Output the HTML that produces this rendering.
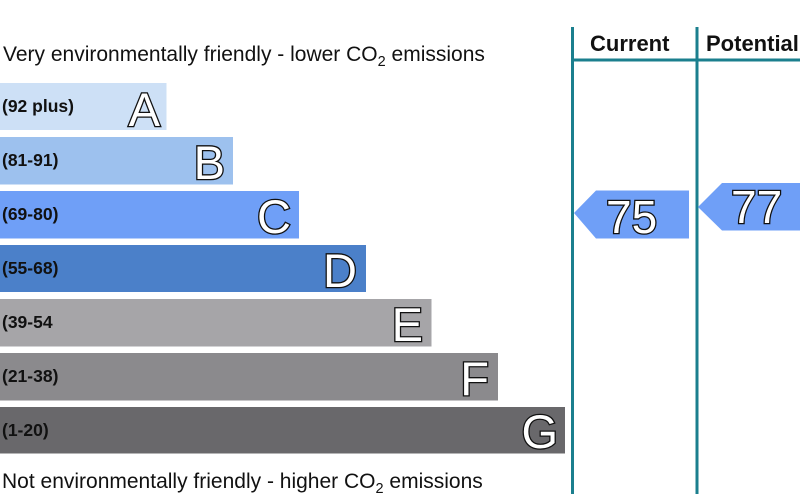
<!DOCTYPE html>
<html><head><meta charset="utf-8"><style>
html,body{margin:0;padding:0;background:#fff;}
svg{display:block;}
.lab{font-family:"Liberation Sans",Arial,sans-serif;font-weight:bold;font-size:17.5px;fill:#111;}
.big{font-family:"Liberation Sans",Arial,sans-serif;font-size:47px;fill:#fff;stroke:#111;stroke-width:2.6px;paint-order:stroke;text-anchor:end;}
.num{font-family:"Liberation Sans",Arial,sans-serif;font-size:46px;fill:#fff;stroke:#111;stroke-width:2.6px;paint-order:stroke;}
.txt{font-family:"Liberation Sans",Arial,sans-serif;font-size:21px;fill:#111;}
.hdr{font-family:"Liberation Sans",Arial,sans-serif;font-weight:bold;font-size:22px;fill:#111;}
</style></head><body>
<svg width="800" height="494" viewBox="0 0 800 494" xmlns="http://www.w3.org/2000/svg">
<rect width="800" height="494" fill="#fff"/>
<text class="txt" x="3" y="61">Very environmentally friendly - lower CO<tspan font-size="14.5" dy="5">2</tspan><tspan dy="-5"> emissions</tspan></text>
<text class="txt" x="2" y="488">Not environmentally friendly - higher CO<tspan font-size="14.5" dy="5">2</tspan><tspan dy="-5"> emissions</tspan></text>

<rect x="0" y="83" width="166.5" height="47" fill="#cde0f6"/>
<rect x="0" y="137" width="233" height="47.5" fill="#9dc1ee"/>
<rect x="0" y="191" width="299" height="47.5" fill="#6f9ff7"/>
<rect x="0" y="245" width="366" height="47" fill="#4b80c9"/>
<rect x="0" y="299" width="431.5" height="47.5" fill="#a6a5a8"/>
<rect x="0" y="353" width="498" height="47.5" fill="#8b8a8d"/>
<rect x="0" y="407" width="565" height="46.5" fill="#69686b"/>

<text class="lab" x="2" y="112">(92 plus)</text>
<text class="lab" x="2" y="166">(81-91)</text>
<text class="lab" x="2" y="220">(69-80)</text>
<text class="lab" x="2" y="274">(55-68)</text>
<text class="lab" x="2" y="328">(39-54</text>
<text class="lab" x="2" y="382">(21-38)</text>
<text class="lab" x="2" y="436">(1-20)</text>

<text class="big" x="160" y="126">A</text>
<text class="big" x="225" y="179">B</text>
<text class="big" x="291" y="233">C</text>
<text class="big" x="357" y="287">D</text>
<text class="big" x="423" y="341">E</text>
<text class="big" x="489" y="395">F</text>
<text class="big" x="558" y="448">G</text>

<rect x="571" y="27" width="3" height="467" fill="#1b7f8e"/>
<rect x="695.5" y="27" width="3" height="467" fill="#1b7f8e"/>
<rect x="571" y="58.5" width="229" height="3" fill="#1b7f8e"/>
<text class="hdr" x="590" y="51">Current</text>
<text class="hdr" x="706" y="51">Potential</text>

<polygon points="574,213 596,190.5 689,190.5 689,238.5 596,238.5" fill="#6f9ff7"/>
<text class="num" x="606" y="233">75</text>
<polygon points="698,207 722,183 800,183 800,230.5 722,230.5" fill="#6f9ff7"/>
<text class="num" x="731" y="223">77</text>
</svg>
</body></html>
